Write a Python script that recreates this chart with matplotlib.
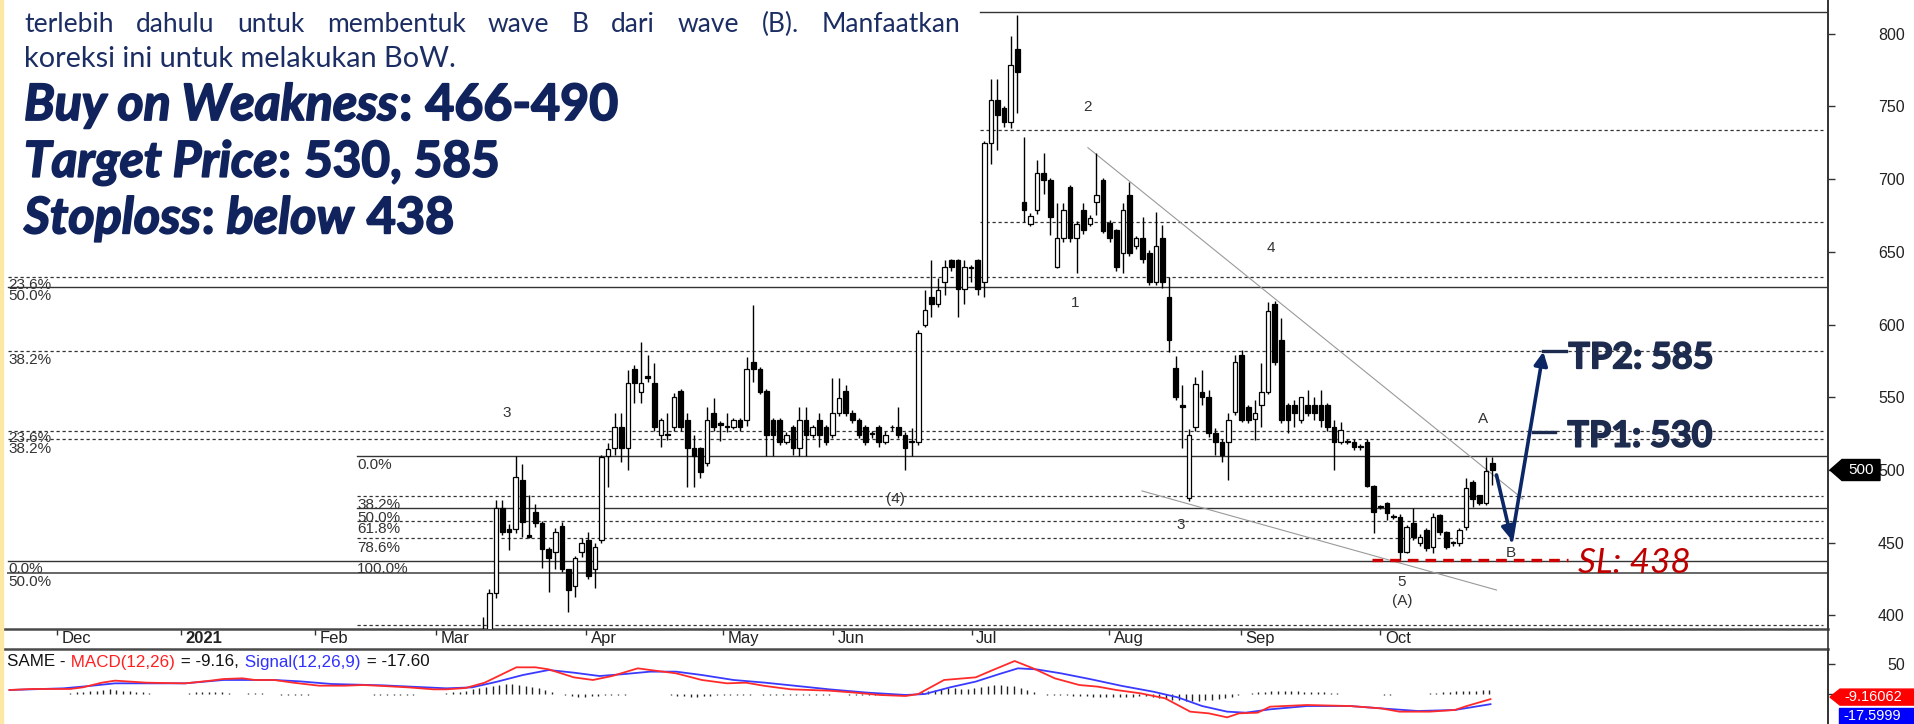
import numpy as np
import matplotlib
matplotlib.use("Agg")
import matplotlib.pyplot as plt
import matplotlib.patheffects as pe
from matplotlib.patches import Polygon, Rectangle, FancyArrowPatch
from matplotlib.lines import Line2D
from matplotlib.transforms import IdentityTransform

W, H = 1915, 724

# ---------------- data ----------------
# x unit = trading day, 0 = first trading day of Dec 2020
month_names = ["Dec", "2021", "Feb", "Mar", "Apr", "May", "Jun", "Jul", "Aug", "Sep", "Oct"]
month_pos = [0, 18.8, 39.1, 57.4, 80.2, 100.9, 117.6, 138.6, 159.4, 179.4, 200.5]

first_day = 64.5  # first candle inside the price window

opens = [380, 388, 415.7, 473.7, 459.2, 459.2, 493.1, 455, 471.4, 463.8,
         445.5, 443.9, 461.5, 431.7, 420.2, 443.9, 451.9, 431.7, 451.9, 509.9,
         514.9, 529.3, 514.9, 569.5, 553.9, 564.6, 559.6, 524.1, 524.5, 529.3,
         554.6, 534.4, 514.9, 514.9, 504.6, 539.4, 532, 530, 529.3, 534.4,
         534.4, 574.5, 569.5, 554.6, 534.4, 534.4, 519.5, 529.3, 514.9, 534.4,
         524.1, 534.4, 529.3, 524.1, 539.4, 554.6, 539.4, 534.4, 529.3, 525,
         529.3, 519.5, 529.5, 529.3, 524.1, 519.5, 519.5, 599.7, 619.1, 614.1,
         629.4, 644.3, 644.3, 624.2, 639, 644.3, 629.4, 724.6, 754.3, 748.6,
         739.4, 789.2, 684.4, 669.1, 678.7, 704.4, 699.3, 639.7, 659.2, 694.3,
         659.2, 678.7, 669, 684.4, 699.3, 670, 664.9, 649.0, 689, 654.2,
         659.2, 648.9, 629.4, 659.2, 619.1, 569.9, 545, 480.5, 529.8, 553.9,
         550.4, 525.2, 519.5, 519.5, 540.1, 579.1, 543.6, 534.8, 544.7, 553.9,
         614.1, 589.4, 544.7, 544.7, 534.4, 544.7, 544.7, 544.7, 544.7, 529.8,
         519.5, 519.6, 519.5, 516.2, 519.5, 489, 475, 477.1, 468, 467.9,
         443.9, 463.3, 449.6, 458.7, 447.3, 469.1, 457.6, 449.8, 449.6, 461.0,
         492.0, 482.8, 477.1, 504.6]
highs = [399, 418, 479.4, 479.4, 463, 509.9, 504.1, 482.8, 476.6, 465,
         447, 460, 464.5, 432, 441, 453, 457.6, 450, 510, 518.8,
         539, 539, 568.8, 572, 588.3, 579.1, 573.4, 536, 539, 553,
         556, 539, 524.1, 516, 543.6, 549.3, 534, 539, 536, 536,
         577.9, 613.5, 571, 556, 536, 536, 526, 531, 543.6, 543.6,
         531, 539, 531, 563, 563, 558.5, 541, 536, 531, 527,
         531, 527, 531, 543.6, 526, 528.7, 596, 623.7, 644.3, 631.7,
         644.3, 645, 645, 644.3, 641, 645, 726, 768.6, 768.6, 750,
         798.4, 812.8, 729.1, 677, 713.1, 718.1, 701, 683.3, 683.3, 696,
         671, 683.3, 675, 717.7, 701, 672, 666, 683.8, 698.2, 661,
         674.1, 651, 677.6, 668.4, 632.9, 578.4, 558.4, 528, 564.2, 568.8,
         555, 528.7, 521, 539, 579.1, 582.5, 545, 548.1, 573.3, 615.8,
         616, 604.3, 546, 548.1, 550.4, 555, 550.4, 555, 546, 534.4,
         533.2, 521, 521, 518, 521, 490, 476, 478, 470, 470,
         462, 474, 456, 460, 470.2, 470, 458, 451, 460, 494.3,
         493, 483, 509.2, 509.2]
lows = [375, 386, 412, 455, 445, 457, 454.2, 453, 461, 432.4,
        416.3, 432, 430, 402.6, 412.9, 440, 425, 418.6, 450, 488.5,
        510, 505.7, 500, 545.8, 545.8, 560.8, 527, 516, 520.6, 527,
        527, 488.5, 488.5, 494.3, 503, 527, 520.2, 526.4, 528, 527,
        530, 560.8, 552, 509.9, 509.9, 517, 518, 510, 509.9, 509.9,
        522, 516, 517, 522, 537, 537, 532, 522, 517, 522,
        516, 518, 527, 522, 500, 509.9, 517, 598, 605.4, 612,
        620.3, 637, 605.4, 614, 629.4, 620, 619.1, 710.3, 720, 736,
        734.9, 745.2, 670.7, 668, 676, 690, 661.5, 639, 657, 657,
        635.2, 662, 668, 675, 662.7, 657, 637, 635.2, 647, 652,
        642, 627, 627, 624.8, 581.3, 548, 515, 479, 527, 545,
        523, 510.3, 505.7, 493.1, 538, 533, 532, 520.6, 529.8, 552,
        572, 532, 525.2, 529.8, 532, 537, 534.4, 529.8, 527, 500,
        518, 518, 514, 514, 488, 456.5, 473, 465.6, 466, 438.1,
        442.7, 452, 448, 444, 442.7, 455, 446, 448, 448, 458.7,
        474.8, 476, 476, 489.7]
closes = [388, 415.7, 473.7, 457.6, 457.6, 495.4, 464.5, 454, 463.3, 445.5,
          439.3, 457.6, 431.7, 417.5, 439.3, 449.6, 427.1, 447.3, 509.2, 514.5,
          529.3, 514.9, 559.6, 559.6, 559.6, 563.5, 529.3, 534.4, 524.1, 550.4,
          529.3, 514.9, 509.6, 498.9, 534.4, 529.8, 531, 529.8, 534.4, 529.3,
          569.5, 569.5, 553.9, 524.1, 524.1, 519.5, 524.1, 514.9, 534.4, 524.1,
          529.3, 524.1, 519.5, 539.4, 549.3, 539.4, 534.4, 524.1, 519.5, 524.5,
          519.5, 524.1, 529.3, 524.1, 514.9, 519.7, 594, 609.9, 614.1, 623.7,
          639.7, 639.7, 624.2, 639.7, 639.7, 624.2, 724.6, 754.3, 744.0, 739.4,
          778.4, 773.8, 678.7, 674.6, 704.4, 699.3, 674.1, 659.2, 678.7, 659.2,
          669.1, 664.9, 673, 689.0, 664.5, 659.2, 639.7, 678.7, 649, 659.2,
          644.8, 629.4, 654.2, 629.4, 589.3, 550.4, 543, 524.1, 559.1, 550.4,
          525.2, 519.5, 510.3, 534.4, 574.5, 534.4, 534.4, 539.4, 553.9, 609.6,
          574.5, 534.4, 534.4, 539.4, 550.0, 539.4, 539.4, 534.4, 529.8, 519.5,
          527.5, 519.5, 516, 516, 489, 471.4, 474.8, 470.2, 467.5, 443.9,
          461, 454.2, 454.2, 446.1, 467.9, 457.6, 447.3, 449.6, 458.7, 487.4,
          479.8, 477.1, 499.5, 500]

# fibonacci / support lines: level, first day, solid?
fib_levels = [814.9, 733.8, 670.3, 632.9, 626.0, 581.8, 526.8, 521.1,
              509.6, 482.1, 473.6, 465.2, 453.2, 437.6, 429.4, 393.7]
fib_start = [139.8, 139.8, 139.8, -7.4, -7.4, -7.4, -7.4, -7.4,
             45.5, 45.5, 45.5, 45.5, 45.5, -7.4, -7.4, 45.5]
fib_solid = [True, False, False, False, True, False, False, False,
             True, False, True, False, False, True, True, False]
fib_text = ["23.6%", "50.0%", "38.2%", "23.6%", "38.2%", "0.0%", "50.0%",
            "0.0%", "38.2%", "50.0%", "61.8%", "78.6%", "100.0%"]
fib_text_x = [-7.4] * 7 + [45.5] * 6
fib_text_y = [627.2, 619.6, 575.3, 522.0, 514.4, 431.6, 422.7,
              503.1, 475.6, 467.3, 459.1, 446.7, 431.6]

wave_text = ["3", "(4)", "2", "1", "4", "3", "5", "(A)", "A", "B"]
wave_x = [68.2, 127.1, 156.1, 154.2, 183.9, 170.2, 203.8, 203.8, 216.0, 220.2]
wave_y = [539.0, 480.1, 749.8, 614.6, 652.4, 462.2, 423.2, 410.0, 534.9, 442.7]

upper_trend_x = [156.2, 222.1]
upper_trend_y = [721.6, 480.1]
lower_trend_x = [164.4, 218.1]
lower_trend_y = [485.6, 417.5]

# projected path: wave B dip then rally to TP2
path_x = [218.1, 220.4, 225.2]
path_y = [496.6, 451.9, 581.3]
tp1, tp2, sl = 526.0, 581.8, 438

# MACD panel
macd_x = [-7.2, -3.8, 2.0, 3.9, 6.8, 8.8, 13.6, 19.4, 20.4, 23.3, 25.2, 28.1, 30.0,
          32.9, 35.8, 39.7, 43.6, 46.4, 49.4, 53.2, 57.1, 59.0, 61.9, 64.8, 69.6,
          72.5, 74.5, 78.3, 81.2, 84.1, 88.0, 89.9, 93.8, 97.7, 101.5, 104.4,
          107.3, 111.2, 117.0, 120.9, 124.7, 128.6, 130.5, 134.4, 139.2, 141.8,
          145.1, 147.9, 151.2, 154.9, 157.7, 160.5, 164.2, 167.9, 171.7, 174.5,
          177.3, 179.1, 181.9, 183.8, 189.4, 195.9, 200.6, 203.4, 208.0, 211.8,
          213.6, 217.2]
macd_val = [6, 7.7, 7.7, 10.4, 18.2, 21.6, 18.2, 17.1, 18.2, 21.6, 24.3, 25.5, 22.7,
            22.7, 18.2, 13.2, 13.2, 14.3, 12.7, 10.4, 7.1, 7.1, 9.3, 18.2, 43.8,
            43.8, 40.4, 27.1, 22.7, 29.3, 42.1, 39.3, 33.8, 22.7, 17.1, 18.2,
            12.7, 7.1, 4.9, 1.6, -2.3, -4, -0.7, 22.7, 27.1, 39.3,
            54.3, 42.1, 25.4, 14.3, 11.6, 6, 0.4, -7.9, -30.1, -32.9,
            -39.6, -32.9, -31.8, -21.8, -19, -20.7, -24.6, -30.1, -30.1, -27.3,
            -20.7, -9.2]
signal_x = [-7.2, 1.0, 4.9, 8.8, 19.4, 25.2, 32.9, 36.8, 41.6, 49.3, 59.0, 62.9,
            66.7, 70.6, 74.5, 78.3, 82.2, 86.1, 89.9, 93.8, 97.7, 102.5, 107.3,
            113.1, 117.0, 122.8, 128.6, 131.5, 135.3, 139.2, 142.8, 145.6, 148.4,
            152.1, 156.7, 161.4, 166.1, 169.8, 173.5, 177.3, 180.1, 183.8, 189.4,
            195.9, 200.6, 206.2, 211.8, 217.2]
signal_val = [6, 8.8, 12.7, 17.1, 17.1, 22.7, 22.7, 20.4, 16, 13.8, 8.8, 10.4,
              19.9, 31, 39.3, 34.9, 29.3, 32.7, 36.6, 36.6, 31, 22.7, 18.2,
              11.6, 7.1, 1.6, -2.3, -0.7, 10.4, 20, 32.7, 42.1, 40.4,
              33.8, 23.8, 12.7, 3.2, -6.2, -20.7, -30.1, -31.8, -26.2, -20.7,
              -20.7, -24.6, -29, -27.3, -17.6]
hist_first_day = -8
hist_val = [-1, -1, -1, -1, -1, -1, -1, -1, 0, 0,
            1, 2, 3, 4, 5, 6, 7, 6, 5, 4,
            3, 2, 1, 0, 0, 0, 0, 0, 1, 2,
            3, 3, 3, 2, 1, 0, 0, 1, 1, 1,
            0, -1, -2, -2, -2, -2, -2, -1, -1, 0,
            0, 0, 0, -1, -1, -1, -2, -2, -2, -2,
            -2, -2, -2, -1, -1, 0, 0, 1, 2, 3,
            5, 7, 9, 11, 13, 15, 16, 16, 15, 13,
            11, 9, 6, 3, -1, -3, -4, -5, -5, -4,
            -4, -3, -3, -3, -2, -1, 0, 0, 0, 0,
            -1, -3, -4, -4, -5, -5, -4, -4, -3, -3,
            -2, -2, -2, -2, -1, -2, -3, -3, -3, -3,
            -3, -3, -3, -3, -2, -2, -1, -1, -2, -2,
            -2, -2, -2, -2, -2, -2, -2, -1, 0, 2,
            4, 6, 8, 9, 10, 8, 7, 9, 11, 13,
            14, 14, 13, 12, 10, 6, 2, -1, -2, -3,
            -3, -3, -4, -4, -4, -5, -5, -5, -5, -5,
            -5, -5, -4, -4, -5, -7, -9, -10, -11, -12,
            -12, -12, -11, -10, -9, -7, -5, -3, -1, 1,
            2, 3, 4, 5, 5, 4, 4, 3, 3, 2,
            2, 1, 1, 0, 0, 0, -1, -1, -1, -2,
            -2, -1, -1, -1, 0, 0, 1, 1, 2, 3,
            4, 4, 5, 5, 6, 6]
macd_last, signal_last = -9.16062, -17.5999

# ---------------- layout ----------------
PLOT_R = 1828       # right price axis, px
MAIN_BOTTOM = 629   # bottom of price panel, px from top
MACD_TOP = 649      # top of MACD panel
PX_PER_DAY, DAY0_PX = 6.6, 57
PX_PER_PRICE, P500_PX = 1.4545, 470
PX_PER_MACD, M0_PX = 0.6, 693.6

NAVY = "#10235c"
GRID = "#333333"

plt.rcParams['font.family'] = ['Liberation Sans', 'DejaVu Sans']
fig = plt.figure(figsize=(W / 100, H / 100), dpi=100)
fig.patch.set_facecolor("white")

ax = fig.add_axes([0, 1 - MAIN_BOTTOM / H, PLOT_R / W, MAIN_BOTTOM / H])
mx = fig.add_axes([0, 0, PLOT_R / W, (H - MACD_TOP) / H])

xlim = (-DAY0_PX / PX_PER_DAY, (PLOT_R - DAY0_PX) / PX_PER_DAY)
ax.set_xlim(*xlim)
ax.set_ylim(500 - (MAIN_BOTTOM - P500_PX) / PX_PER_PRICE, 500 + P500_PX / PX_PER_PRICE)
mx.set_xlim(*xlim)
mx.set_ylim(-(H - M0_PX) / PX_PER_MACD, (M0_PX - MACD_TOP) / PX_PER_MACD)

for a in (ax, mx):
    for s in ("left", "top", "bottom"):
        a.spines[s].set_visible(False)
    a.spines["right"].set_color(GRID)
    a.spines["right"].set_linewidth(1.2)
ax.spines["bottom"].set_visible(True)
ax.spines["bottom"].set_color("#4a4a4a")
ax.spines["bottom"].set_linewidth(1.8)
mx.spines["top"].set_visible(True)
mx.spines["top"].set_color("#4a4a4a")
mx.spines["top"].set_linewidth(1.8)

ax.set_yticks(np.arange(400, 801, 50))
ax.yaxis.tick_right()
ax.tick_params(axis="y", direction="out", length=5, width=1, color=GRID,
               pad=31, labelsize=11.5, labelcolor="#222222")
ax.set_xticks(month_pos)
ax.tick_params(axis="x", direction="out", length=4, width=1, color=GRID, labelbottom=False)

# the zero label sits under the MACD value marker, so only the tick is kept
mx.set_yticks([0, 50], ["", "50"])
mx.yaxis.tick_right()
mx.tick_params(axis="y", direction="out", length=5, width=1, color=GRID,
               pad=38, labelsize=11.5, labelcolor="#222222")
mx.set_xticks([])

# horizontal levels
for lvl, x0, solid in zip(fib_levels, fib_start, fib_solid):
    if solid:
        col = "#666666" if lvl < 430 else GRID
        ax.plot([x0, xlim[1]], [lvl, lvl], color=col, lw=1.0 if lvl >= 430 else 1.4, zorder=1)
    else:
        ax.plot([x0, xlim[1] - 0.7], [lvl, lvl], color=GRID, lw=0.9,
                dashes=(2.6, 2.2), zorder=1)
for t, x, y in zip(fib_text, fib_text_x, fib_text_y):
    ax.text(x, y, t, fontsize=11, color="#333333", va="center", ha="left", zorder=2)

# trend lines
ax.plot(upper_trend_x, upper_trend_y, color="#9a9a9a", lw=0.8, zorder=2)
ax.plot(lower_trend_x, lower_trend_y, color="#9a9a9a", lw=0.8, zorder=2)

# candles
o, h, l, c = map(np.asarray, (opens, highs, lows, closes))
days = first_day + np.arange(len(o))
up = c >= o
ax.vlines(days, l, h, color="black", lw=1, zorder=3)
bottom = np.minimum(o, c)
height = np.maximum(np.abs(c - o), 0.6)
ax.bar(days[up], height[up], bottom=bottom[up], width=0.68, color="white",
       edgecolor="black", linewidth=0.9, zorder=4)
ax.bar(days[~up], height[~up], bottom=bottom[~up], width=0.68, color="black",
       edgecolor="black", linewidth=0.9, zorder=4)

for t, x, y in zip(wave_text, wave_x, wave_y):
    ax.text(x, y, t, fontsize=11, color="#333333", ha="center", va="center", zorder=5)

# trade plan drawing
ax.plot([path_x[2], path_x[2] + 3.5], [tp2, tp2], color="#1d2b4e", lw=2.4, zorder=6)
ax.plot([path_x[2] - 1.6, path_x[2] + 1.8], [tp1, tp1], color="#1d2b4e", lw=2.4, zorder=6)
ax.plot([199.2, 229.0], [sl, sl], color="#cc0000", lw=2.4, dashes=(3.2, 2.1), zorder=6)
for i in range(2):
    ax.add_patch(FancyArrowPatch((path_x[i], path_y[i]), (path_x[i + 1], path_y[i + 1]),
                                 arrowstyle="-|>", color="#0b2766", lw=2.6,
                                 mutation_scale=20, shrinkA=0, shrinkB=0, zorder=7))

# MACD panel
mx.plot(signal_x, signal_val, color="#3a3aff", lw=1.3, zorder=3)
mx.plot(macd_x, macd_val, color="#ff2b2b", lw=1.3, zorder=4)
hd = hist_first_day + np.arange(len(hist_val))
mx.vlines(hd, 0, hist_val, color="#222222", lw=1, zorder=2)

# ---------------- figure-level text ----------------
rend = fig.canvas.get_renderer()
ID = IdentityTransform()


def put_runs(parts, x, base, size, family, target_w=None, stroke=0):
    def place(sz):
        arts, cx = [], x
        for s, st, wt, col in parts:
            t = fig.text(cx, H - base, s, transform=ID, fontsize=sz, fontstyle=st,
                         fontweight=wt, color=col, family=family, ha="left", va="baseline")
            if stroke:
                t.set_path_effects([pe.withStroke(linewidth=stroke, foreground=col)])
            cx += t.get_window_extent(rend).width + 1
            arts.append(t)
        return arts, cx - x
    arts, w = place(size)
    if target_w:
        for a_ in arts:
            a_.remove()
        arts, w = place(size * target_w / w)
    return arts


def put_justified(line, x, base, size, family, target_w, color):
    words = line.split()
    ts = [fig.text(0, H - base, w_, transform=ID, fontsize=size, family=family,
                   color=color, ha="left", va="baseline") for w_ in words]
    widths = [t.get_window_extent(rend).width for t in ts]
    gap = (target_w - sum(widths)) / (len(words) - 1)
    cx = x
    for t, w_ in zip(ts, widths):
        t.set_x(cx)
        cx += w_ + gap


BODY = "#1b2d63"
put_justified("terlebih dahulu untuk membentuk wave B dari wave (B). Manfaatkan",
              24, 31.7, 19, "Lato", 936, BODY)
put_runs([("koreksi ini untuk melakukan BoW.", "normal", "normal", BODY)],
         24, 66.7, 19, "Lato", 435)
B = "bold"
put_runs([("Buy on Weakness", "italic", B, NAVY), (":", "normal", B, NAVY),
          (" 466-490", "normal", B, NAVY)], 24, 120, 32, "Lato", 596, stroke=1.3)
put_runs([("Target Price", "italic", B, NAVY), (":", "normal", B, NAVY),
          (" 530, 585", "normal", B, NAVY)], 24, 176.7, 32, "Lato", 478, stroke=1.3)
put_runs([("Stoploss", "italic", B, NAVY), (":", "normal", B, NAVY),
          (" below", "italic", B, NAVY), (" 438", "normal", B, NAVY)],
         24, 233.3, 32, "Lato", 433, stroke=1.3)


def data_px(axis, x, y):
    return axis.transData.transform((x, y))


tx = data_px(ax, 229.0, tp2)[0]
put_runs([("TP2: 585", "normal", B, "#1d2b4e")], tx, 368.3, 26, "Lato", 146, stroke=1.2)
put_runs([("TP1: 530", "normal", B, "#1d2b4e")], tx - 1, 446.7, 26, "Lato", 146, stroke=1.2)
put_runs([("SL: 438", "italic", "normal", "#c00000")], tx + 10, 573.3, 26, "Lato", 114)

# month labels
for name, pos in zip(month_names, month_pos):
    px = data_px(ax, pos, 500)[0] + 4.5
    fig.text(px, H - 643.3, name, transform=ID, fontsize=12, color="#222222",
             fontweight="bold" if name == "2021" else "normal", va="baseline", ha="left")

# MACD title
put_runs([("SAME -", "normal", "normal", "#111111"), (" MACD(12,26)", "normal", "normal", "#ff2020"),
          (" = -9.16,", "normal", "normal", "#111111"), (" Signal(12,26,9)", "normal", "normal", "#3030ff"),
          (" = -17.60", "normal", "normal", "#111111")], 7, 666.5, 11.5, "Liberation Sans", 423)

# left page border
fig.add_artist(Rectangle((0, 0), 3, H, transform=ID, color="#fde7a4", zorder=10))
# axis line through the date strip
fig.add_artist(Line2D([PLOT_R, PLOT_R], [0, H], transform=ID, color=GRID, lw=1.2, zorder=9))

# last price marker
y5 = data_px(ax, 0, closes[-1])[1]
fig.add_artist(Polygon([(PLOT_R + 2, y5), (PLOT_R + 14, y5 + 10.5), (1880, y5 + 10.5),
                        (1880, y5 - 10.5), (PLOT_R + 14, y5 - 10.5)], closed=True,
                       transform=ID, color="black", zorder=11))
fig.text(1861, y5, f"{closes[-1]:.0f}", transform=ID, color="white", fontsize=11,
         ha="center", va="center", zorder=12)

# MACD value markers
yr = data_px(mx, 0, macd_last)[1] + 2
fig.add_artist(Polygon([(PLOT_R + 2, yr), (PLOT_R + 12, yr + 8), (W, yr + 8),
                        (W, yr - 8), (PLOT_R + 12, yr - 8)], closed=True,
                       transform=ID, color="#ff0000", zorder=11))
fig.text(1844, yr, f"{macd_last:.5f}", transform=ID, color="white", fontsize=10.5,
         ha="left", va="center", zorder=12)
yb = yr - 8 - 3 - 8
fig.add_artist(Rectangle((1839, yb - 8), W - 1839, 16, transform=ID, color="#0000ff", zorder=11))
fig.text(1843, yb, f"{signal_last:.4f}", transform=ID, color="white", fontsize=10.5,
         ha="left", va="center", zorder=12)

fig.savefig("out.png", dpi=100, facecolor="white")
